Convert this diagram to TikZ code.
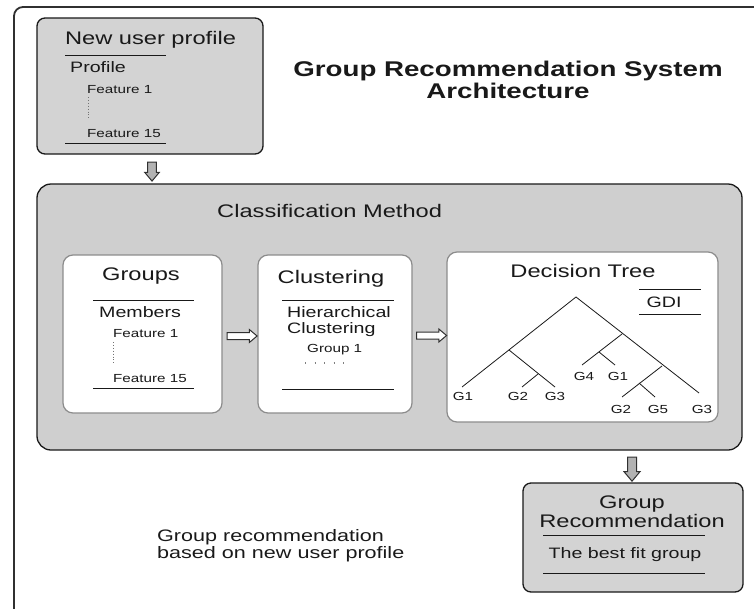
\documentclass[tikz,border=0pt]{standalone}
\usepackage{fontspec}
\setmainfont{Liberation Sans}[FakeStretch=1.3]
\usetikzlibrary{shapes.arrows,calc}
\definecolor{boxgray}{RGB}{211,211,211}
\definecolor{cmgray}{RGB}{207,207,207}
\definecolor{ink}{RGB}{25,25,25}
\begin{document}
\begin{tikzpicture}[x=1pt,y=-1pt,
  frame/.style={draw=ink!90, line width=1.8pt, rounded corners=9pt},
  graybox/.style={draw=ink, line width=1.3pt, fill=boxgray, rounded corners=8pt, inner sep=0pt},
  whitebox/.style={draw=black!45, line width=1.2pt, fill=white, rounded corners=10pt, inner sep=0pt},
  head/.style={font=\fontsize{18.2}{19}\selectfont, inner sep=0pt, anchor=base, text=ink, align=center},
  sub/.style={font=\fontsize{15.1}{16}\selectfont, inner sep=0pt, anchor=base west, text=ink, align=left},
  small/.style={font=\fontsize{11.7}{14}\selectfont, inner sep=0pt, anchor=base west, text=ink},
  glab/.style={font=\fontsize{11.7}{14}\selectfont, inner sep=0pt, anchor=base, text=ink},
  rule/.style={draw=ink, line width=0.9pt},
  tree/.style={draw=ink, line width=0.8pt},
  vdots/.style={draw=black!55, line width=0.9pt, dotted},
  rarrowst/.style={single arrow, draw=ink!90, fill=white, line width=1pt, minimum height=30pt,
    inner sep=3pt, single arrow head extend=3pt, single arrow tip angle=80},
  darrowst/.style={single arrow, draw=ink!90, fill=black!30, line width=1pt, rotate=-90,
    inner sep=3.8pt, single arrow head extend=3pt, single arrow tip angle=80}
]
\useasboundingbox (0,0) rectangle (754,608);
\clip (0,0) rectangle (754,608);
% outer frame (cropped at right and bottom)
\coordinate (fbl) at (14,640);
\coordinate (ftl) at (14,7);
\coordinate (ftr) at (790,7);
\draw[frame] (fbl) -- (ftl) -- (ftr);

% title (anchor base = baseline of last line)
\node[font=\bfseries\fontsize{21.3}{22.5}\selectfont, align=center, anchor=base, inner sep=0pt, text=ink]
  (title) at (508,98.5) {Group Recommendation System\\Architecture};

% New user profile box
\node[graybox, minimum width=226pt, minimum height=136pt] (nup) at (150,86) {};
\node[head] (nupt) at (150.5,44) {New user profile};
\coordinate (nupl1a) at (65,55);  \coordinate (nupl1b) at (166,55);
\coordinate (nupl2a) at (65,143); \coordinate (nupl2b) at (166,143);
\draw[rule] (nupl1a) -- (nupl1b);
\draw[rule] (nupl2a) -- (nupl2b);
\node[sub] (nupp) at (70,72) {Profile};
\node[small] (nupf1) at (87,93) {Feature 1};
\node[small] (nupf15) at (87,137) {Feature 15};
\coordinate (nupd1) at (88.5,97); \coordinate (nupd2) at (88.5,119);
\draw[vdots] (nupd1) -- (nupd2);

% Classification method box
\node[graybox, fill=cmgray, rounded corners=14pt, minimum width=705pt, minimum height=266pt] (cm) at (389.5,317) {};
\node[head, anchor=base west] (cmt) at (217,217) {Classification Method};

% arrow down to classification
\node[darrowst, minimum height=19pt] (arr1) at ($(nup.south)!0.5!(nup.south|-cm.north)+(2,0)$) {};

% Groups box
\node[whitebox, minimum width=159pt, minimum height=158pt] (grp) at (142.5,334) {};
\node[head] (grpt) at (141,280) {Groups};
\coordinate (grl1a) at (93,300);  \coordinate (grl1b) at (194,300);
\coordinate (grl2a) at (93,388);  \coordinate (grl2b) at (194,388);
\draw[rule] (grl1a) -- (grl1b);
\draw[rule] (grl2a) -- (grl2b);
\node[sub] (grm) at (99,317) {Members};
\node[small] (grf1) at (113,337) {Feature 1};
\node[small] (grf15) at (113,382) {Feature 15};
\coordinate (grd1) at (113.5,342); \coordinate (grd2) at (113.5,364);
\draw[vdots] (grd1) -- (grd2);

% Clustering box
\node[whitebox, minimum width=154pt, minimum height=158pt] (cls) at (335,334) {};
\node[head] (clst) at (331,283) {Clustering};
\coordinate (cll1a) at (282,300);  \coordinate (cll1b) at (394,300);
\coordinate (cll2a) at (282,389);  \coordinate (cll2b) at (394,389);
\draw[rule] (cll1a) -- (cll1b);
\draw[rule] (cll2a) -- (cll2b);
\node[sub] (clh) at (287,333) {Hierarchical\\Clustering};
\node[small] (clg1) at (307,352) {Group 1};
\coordinate (cldt1) at (305,363); \coordinate (cldt2) at (345,363);
\draw[draw=black!50, line width=1.2pt, dash pattern=on 1.2pt off 8.3pt] (cldt1) -- (cldt2);

% arrow groups -> clustering
\node[rarrowst] (arr2) at ($(grp.east)!0.5!(cls.west)+(0,2)$) {};

% Decision tree box
\node[whitebox, minimum width=271pt, minimum height=170pt] (dt) at (582.5,337) {};
\node[head] (dtt) at (583,277) {Decision Tree};
\coordinate (gdl1a) at (639,289);  \coordinate (gdl1b) at (701,289);
\coordinate (gdl2a) at (639,314);  \coordinate (gdl2b) at (701,314);
\draw[rule] (gdl1a) -- (gdl1b);
\draw[rule] (gdl2a) -- (gdl2b);
\node[sub, anchor=base] (gdi) at (664,307) {GDI};

% arrow clustering -> decision tree
\node[rarrowst] (arr3) at ($(cls.east)!0.5!(dt.west)$) {};

% tree
\coordinate (root) at (576,297);
\coordinate (tL) at (509,350);
\coordinate (tLL) at (462,387);
\coordinate (tLR) at (555,387);
\coordinate (tLRm) at (538,374);
\coordinate (tLRmL) at (522,387);
\coordinate (tRR) at (699,393);
\coordinate (tR1) at (622,334);
\coordinate (tR1L) at (582,365);
\coordinate (tR1m) at (599,352);
\coordinate (tR1mR) at (615,365);
\coordinate (tR2) at (662,366);
\coordinate (tR2L) at (622,397);
\coordinate (tR2m) at (639,383);
\coordinate (tR2mR) at (655,397);
\draw[tree] (tLL) -- (root) -- (tRR);
\draw[tree] (tL) -- (tLR);
\draw[tree] (tLRm) -- (tLRmL);
\draw[tree] (tR1) -- (tR1L);
\draw[tree] (tR1m) -- (tR1mR);
\draw[tree] (tR2) -- (tR2L);
\draw[tree] (tR2m) -- (tR2mR);
\node[glab] (lg1) at (463,400) {G1};
\node[glab] (lg2) at (518,400) {G2};
\node[glab] (lg3) at (555,400) {G3};
\node[glab] (lg4) at (584,380) {G4};
\node[glab] (lg1b) at (618,380) {G1};
\node[glab] (lg2b) at (621,413) {G2};
\node[glab] (lg5) at (658,413) {G5};
\node[glab] (lg3b) at (702,413) {G3};

% Group recommendation box
\node[graybox, minimum width=220pt, minimum height=109pt] (gr) at (633,537.5) {};
\node[head] (grt) at (632,527) {Group\\Recommendation};
\coordinate (grr1a) at (543,535);  \coordinate (grr1b) at (705,535);
\coordinate (grr2a) at (543,573);  \coordinate (grr2b) at (705,573);
\draw[rule] (grr1a) -- (grr1b);
\draw[rule] (grr2a) -- (grr2b);
\node[sub, anchor=base] (grbf) at (625,558) {The best fit group};

% arrow down to group recommendation
\node[darrowst, minimum height=24pt, inner sep=4pt, single arrow head extend=3.5pt] (arr4) at ($(gr.north)!0.5!(gr.north|-cm.south)+(-1,0)$) {};

% note
\node[font=\fontsize{16.6}{16.5}\selectfont, align=left, anchor=base west, inner sep=0pt, text=ink]
  (note) at (157,558) {Group recommendation\\based on new user profile};
\end{tikzpicture}
\end{document}
